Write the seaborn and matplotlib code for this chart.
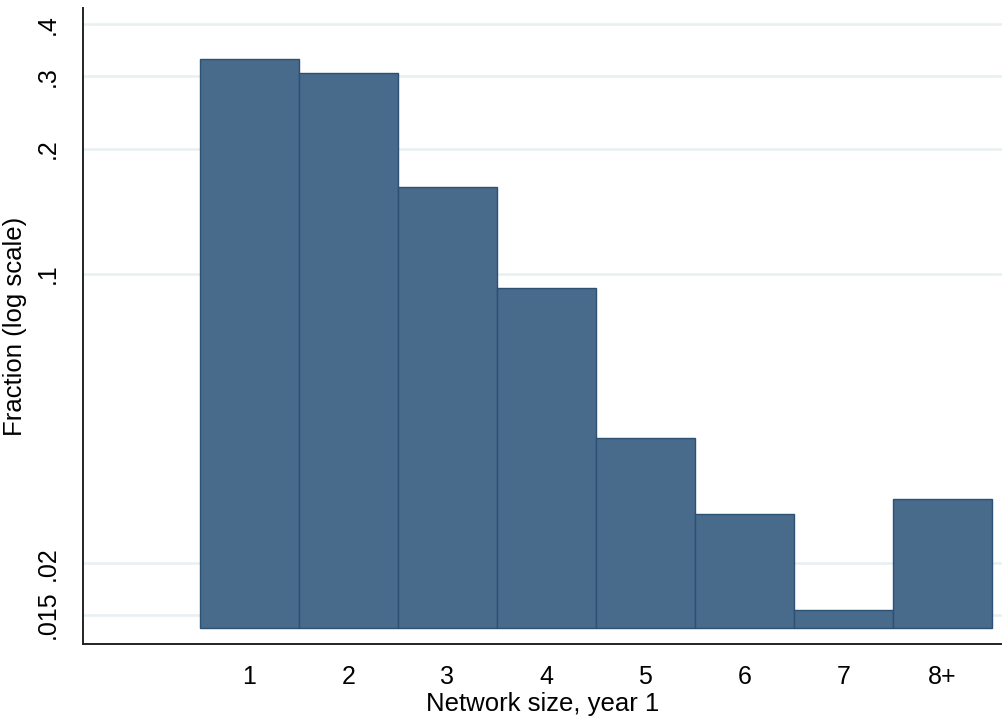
import numpy as np
import pandas as pd
import matplotlib
matplotlib.use("Agg")
import matplotlib.pyplot as plt
import seaborn as sns
from matplotlib.ticker import FixedLocator, FixedFormatter, NullLocator

# ---- data ----
categories = ["1", "2", "3", "4", "5", "6", "7", "8+"]
fractions = [0.329, 0.306, 0.1615, 0.0926, 0.0400, 0.0263, 0.0154, 0.0285]
bar_base = 0.01397
ytick_values = [0.015, 0.02, 0.1, 0.2, 0.3, 0.4]
ytick_labels = [".015", ".02", ".1", ".2", ".3", ".4"]

sns.set_style("white")
plt.rcParams["font.family"] = ["Liberation Sans", "DejaVu Sans"]

fig = plt.figure(figsize=(10.03, 7.19), dpi=100)
ax = fig.add_axes([83 / 1003, 1 - 644 / 719, 1 - 83 / 1003, (644 - 8) / 719])

df = pd.DataFrame({"size": categories,
                   "height": np.array(fractions) - bar_base})
sns.barplot(data=df, x="size", y="height", bottom=bar_base, width=1.0,
            color="#486b8c", saturation=1, edgecolor="#2d5172",
            linewidth=1.0, ax=ax, zorder=3)

ax.set_yscale("log")
ax.set_ylim(0.01276, 0.438)
ax.set_xlim(-1.68, 7.613)

ax.yaxis.set_major_locator(FixedLocator(ytick_values))
ax.yaxis.set_major_formatter(FixedFormatter(ytick_labels))
ax.yaxis.set_minor_locator(NullLocator())

ax.yaxis.grid(True, color="#e8f0f2", linewidth=1.8, zorder=0)
ax.xaxis.grid(False)
ax.set_axisbelow(True)

for s in ["top", "right"]:
    ax.spines[s].set_visible(False)
for s in ["left", "bottom"]:
    ax.spines[s].set_color("#222222")
    ax.spines[s].set_linewidth(1.4)

ax.tick_params(axis="both", which="major", direction="out", length=10,
               width=1.3, color="#222222", labelsize=18, labelcolor="black")
ax.tick_params(axis="y", labelrotation=90, pad=7)
ax.tick_params(axis="x", pad=5)
for lab in ax.get_yticklabels():
    lab.set_verticalalignment("center")

ax.set_xlabel("Network size, year 1", fontsize=18.5, labelpad=2, color="black")
ax.set_ylabel("Fraction (log scale)", fontsize=18.5, labelpad=6, color="black")

fig.savefig("out.png", dpi=100)
